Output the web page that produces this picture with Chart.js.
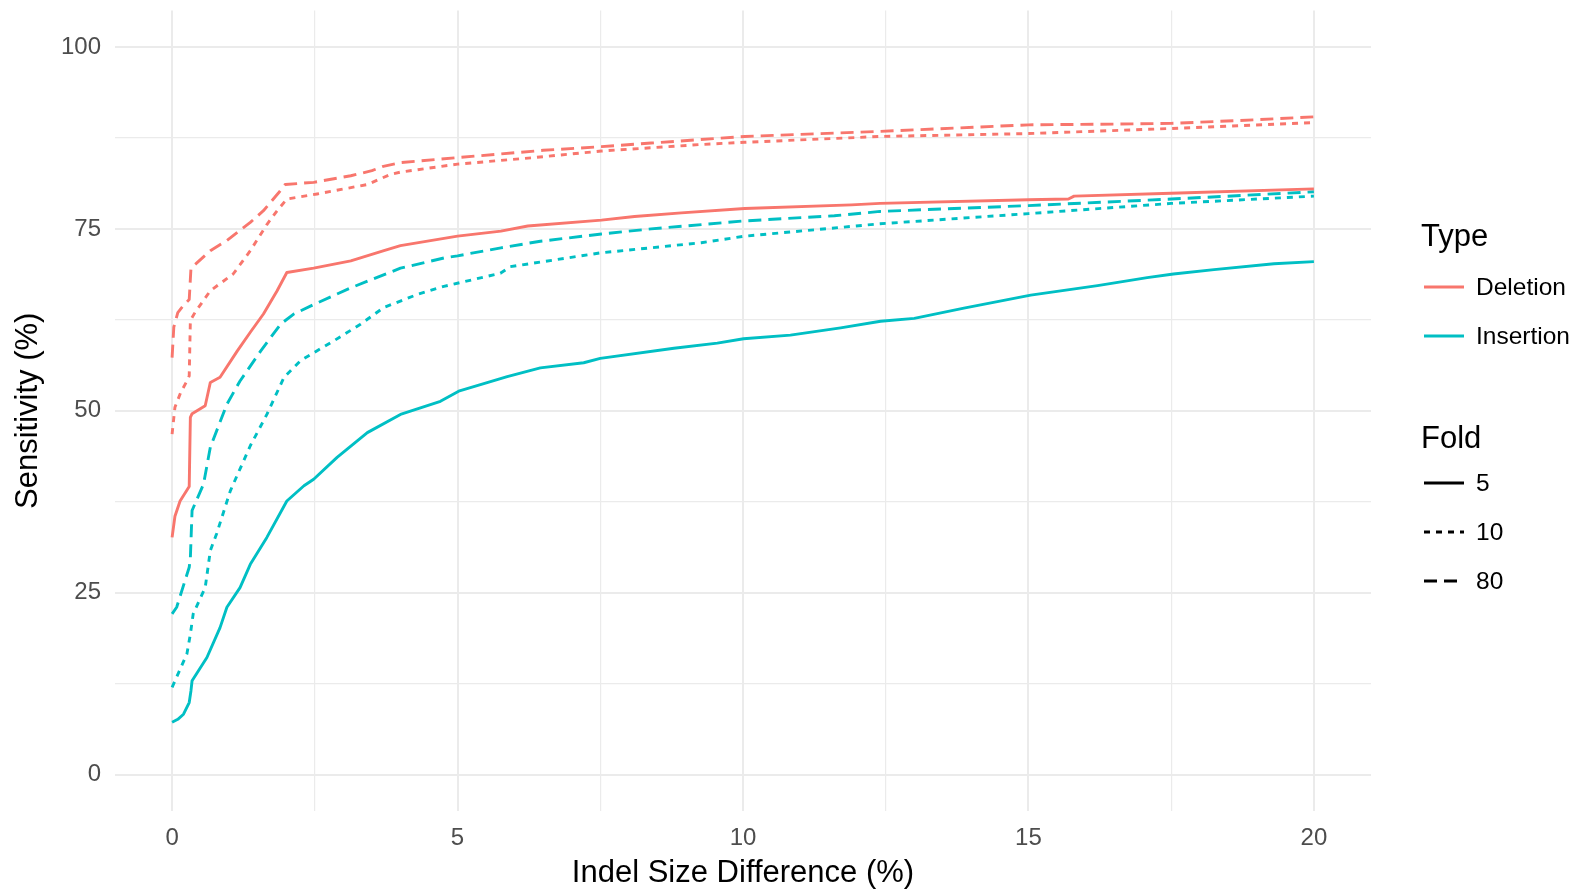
<!DOCTYPE html>
<html><head><meta charset="utf-8">
<script src="https://cdn.jsdelivr.net/npm/chart.js@4.4.1/dist/chart.umd.min.js"></script>
<style>
html,body{margin:0;padding:0;background:#fff;}
#wrap{position:relative;width:1572px;height:889px;overflow:hidden;}
#c{position:absolute;left:0;top:0;}
.lg{position:absolute;font-family:"Liberation Sans",Arial,sans-serif;color:#000;white-space:nowrap;line-height:1;transform:translateY(-50%);}
.key{position:absolute;}
</style></head><body>
<div id="wrap"><canvas id="c" width="1572" height="889"></canvas><div id="legend"></div></div>
<script>
// ---- data ----
const xTickValues = [0, 5, 10, 15, 20];
const yTickValues = [0, 25, 50, 75, 100];
const typeNames = ["Deletion", "Insertion"];
const foldNames = ["5", "10", "80"];
const xTitle = "Indel Size Difference (%)";
const yTitle = "Sensitivity (%)";

const delFold5X = [0, 0.05, 0.14, 0.3, 0.32, 0.35, 0.58, 0.67, 0.84, 1.14, 1.37, 1.6, 1.84, 2.01, 2.48, 3.13, 3.71, 4.0, 5.0, 5.76, 6.23, 7.52, 8.1, 8.92, 10.03, 11.9, 12.4, 15.0, 15.7, 15.8, 17.5, 20.0];
const delFold5Y = [32.6, 35.5, 37.6, 39.6, 49.1, 49.6, 50.7, 53.9, 54.6, 58.2, 60.8, 63.3, 66.5, 69.0, 69.6, 70.6, 72.0, 72.7, 74.0, 74.7, 75.4, 76.2, 76.7, 77.2, 77.8, 78.3, 78.5, 79.0, 79.1, 79.5, 79.9, 80.5];

const delFold10X = [0, 0.05, 0.15, 0.26, 0.3, 0.32, 0.4, 0.67, 1.07, 1.37, 1.66, 1.84, 2.01, 2.54, 3.42, 3.83, 4.0, 5.0, 6.34, 7.52, 9.27, 10.03, 12.4, 15.0, 17.5, 20.0];
const delFold10Y = [46.8, 50.5, 52.5, 54.1, 54.8, 62.4, 63.5, 66.5, 68.8, 72.0, 75.6, 77.5, 79.1, 79.8, 81.1, 82.5, 82.8, 83.9, 84.8, 85.7, 86.6, 86.9, 87.7, 88.1, 88.8, 89.6];

const delFold80X = [0, 0.03, 0.1, 0.2, 0.3, 0.33, 0.4, 0.67, 0.96, 1.37, 1.6, 1.87, 1.98, 2.48, 3.13, 3.5, 3.7, 4.0, 5.0, 5.76, 6.5, 7.52, 8.39, 10.03, 12.4, 15.0, 16.5, 17.5, 19.0, 20.0];
const delFold80Y = [57.3, 61.5, 63.5, 64.5, 65.3, 69.5, 70.1, 72.0, 73.4, 75.9, 77.5, 80.0, 81.1, 81.4, 82.3, 83.0, 83.6, 84.1, 84.8, 85.3, 85.8, 86.3, 86.8, 87.7, 88.4, 89.3, 89.4, 89.5, 90.0, 90.4];

const insFold5X = [0, 0.1, 0.2, 0.3, 0.33, 0.35, 0.61, 0.84, 0.96, 1.19, 1.37, 1.66, 2.01, 2.31, 2.48, 2.89, 3.42, 4.0, 4.7, 5.02, 5.87, 6.45, 7.21, 7.5, 8.79, 9.55, 10.01, 10.83, 11.71, 12.41, 13.0, 13.87, 15.04, 16.21, 17.08, 17.54, 18.25, 19.3, 20.0];
const insFold5Y = [7.2, 7.6, 8.3, 9.9, 11.5, 12.9, 16.1, 20.2, 23.0, 25.7, 28.9, 32.6, 37.6, 39.7, 40.6, 43.6, 47.0, 49.5, 51.3, 52.7, 54.7, 55.9, 56.6, 57.2, 58.6, 59.3, 59.9, 60.4, 61.4, 62.3, 62.7, 64.1, 65.9, 67.2, 68.3, 68.8, 69.4, 70.2, 70.5];

const insFold10X = [0, 0.26, 0.32, 0.37, 0.58, 0.67, 0.78, 1.02, 1.37, 1.66, 1.96, 2.25, 2.83, 3.3, 3.71, 4.3, 4.76, 5.75, 5.92, 7.5, 9.27, 10.03, 12.4, 15.0, 17.5, 20.0];
const insFold10Y = [12.0, 16.6, 19.3, 22.1, 25.7, 30.8, 33.1, 39.0, 45.2, 49.5, 54.6, 56.9, 59.6, 61.9, 64.2, 66.0, 67.1, 68.9, 69.8, 71.7, 73.1, 74.0, 75.7, 77.1, 78.5, 79.5];

const insFold80X = [0, 0.08, 0.3, 0.32, 0.35, 0.55, 0.67, 0.96, 1.19, 1.55, 1.9, 2.13, 2.48, 3.13, 4.0, 4.76, 5.0, 5.76, 6.45, 7.52, 8.39, 10.03, 11.6, 12.4, 15.0, 17.5, 20.0];
const insFold80Y = [22.1, 23.0, 28.5, 29.8, 36.3, 39.9, 45.0, 50.9, 54.1, 58.2, 61.9, 63.3, 64.6, 66.9, 69.6, 71.0, 71.3, 72.4, 73.3, 74.3, 75.0, 76.1, 76.8, 77.4, 78.2, 79.1, 80.1];

// ---- styles ----
const RED = "#F8766D", CYAN = "#00BFC4";
const DASH = { "5": [], "10": [6, 6], "80": [13, 7] };
const LW = 2.9;

function pts(xs, ys) { return xs.map((x, i) => ({ x: x, y: ys[i] })); }
function ds(label, xs, ys, color, fold) {
  return { label: label, data: pts(xs, ys), borderColor: color, backgroundColor: color,
    borderWidth: LW, borderDash: DASH[fold], pointRadius: 0, pointHoverRadius: 0,
    tension: 0, fill: false, borderCapStyle: "butt", borderJoinStyle: "round" };
}

const datasets = [
  ds("Deletion 5", delFold5X, delFold5Y, RED, "5"),
  ds("Deletion 10", delFold10X, delFold10Y, RED, "10"),
  ds("Deletion 80", delFold80X, delFold80Y, RED, "80"),
  ds("Insertion 5", insFold5X, insFold5Y, CYAN, "5"),
  ds("Insertion 10", insFold10X, insFold10Y, CYAN, "10"),
  ds("Insertion 80", insFold80X, insFold80Y, CYAN, "80")
];

const FONT = '"Liberation Sans", Arial, sans-serif';
const GRID = "#EBEBEB";

function withMinor(major) {
  const out = [];
  for (let i = 0; i < major.length; i++) {
    out.push(major[i]);
    if (i < major.length - 1) out.push((major[i] + major[i + 1]) / 2);
  }
  return out;
}

new Chart(document.getElementById("c"), {
  type: "line",
  data: { datasets: datasets },
  options: {
    responsive: false, animation: false, devicePixelRatio: 1,
    layout: { padding: { left: 0, right: 201, top: 10.6, bottom: 0 } },
    plugins: { legend: { display: false }, tooltip: { enabled: false } },
    scales: {
      x: {
        type: "linear", min: -1.0, max: 21.0,
        afterFit: s => { s.height = 78; s.paddingLeft = 0; s.paddingRight = 0; },
        afterBuildTicks: s => { s.ticks = withMinor(xTickValues).map(v => ({ value: v })); },
        border: { display: false },
        grid: { drawTicks: false, color: GRID, lineWidth: c => (c.tick && xTickValues.includes(c.tick.value)) ? 2 : 1.2 },
        ticks: { padding: 13, color: "#4D4D4D", font: { family: FONT, size: 24 }, maxRotation: 0, autoSkip: false,
          callback: v => xTickValues.includes(v) ? String(v) : "" },
        title: { display: true, text: xTitle, color: "#000", font: { family: FONT, size: 31 }, padding: { top: 0, bottom: -3 } }
      },
      y: {
        type: "linear", min: -5, max: 105,
        afterFit: s => { s.width = 115; s.paddingTop = 0; s.paddingBottom = 0; },
        afterBuildTicks: s => { s.ticks = withMinor(yTickValues).map(v => ({ value: v })); },
        border: { display: false },
        grid: { drawTicks: false, color: GRID, lineWidth: c => (c.tick && yTickValues.includes(c.tick.value)) ? 2 : 1.2 },
        ticks: { padding: 14, color: "#4D4D4D", font: { family: FONT, size: 24 }, autoSkip: false,
          callback: v => yTickValues.includes(v) ? String(v) : "" },
        title: { display: true, text: yTitle, color: "#000", font: { family: FONT, size: 31 }, padding: { top: 10, bottom: 0 } }
      }
    }
  }
});

// ---- legend (HTML text) ----
const lg = document.getElementById("legend");
function text(t, x, y, size) {
  const d = document.createElement("div");
  d.className = "lg"; d.textContent = t;
  d.style.left = x + "px"; d.style.top = y + "px"; d.style.fontSize = size + "px";
  lg.appendChild(d);
}
function key(y, color, dash) {
  const ns = "http://www.w3.org/2000/svg";
  const svg = document.createElementNS(ns, "svg");
  svg.setAttribute("class", "key"); svg.setAttribute("width", "44"); svg.setAttribute("height", "10");
  svg.style.left = "1424px"; svg.style.top = (y - 5) + "px";
  const l = document.createElementNS(ns, "line");
  l.setAttribute("x1", "0"); l.setAttribute("x2", "40"); l.setAttribute("y1", "5"); l.setAttribute("y2", "5");
  l.setAttribute("stroke", color); l.setAttribute("stroke-width", "3");
  if (dash.length) l.setAttribute("stroke-dasharray", dash.join(" "));
  svg.appendChild(l); lg.appendChild(svg);
}
text("Type", 1421, 235, 31);
const typeColors = [RED, CYAN];
typeNames.forEach((n, i) => { key(287 + i * 49, typeColors[i], []); text(n, 1476, 287 + i * 49, 24.5); });
text("Fold", 1421, 437, 31);
foldNames.forEach((n, i) => { key(483 + i * 49, "#000", DASH[n]); text(n, 1476, 483 + i * 49, 24.5); });
</script>
</body></html>
